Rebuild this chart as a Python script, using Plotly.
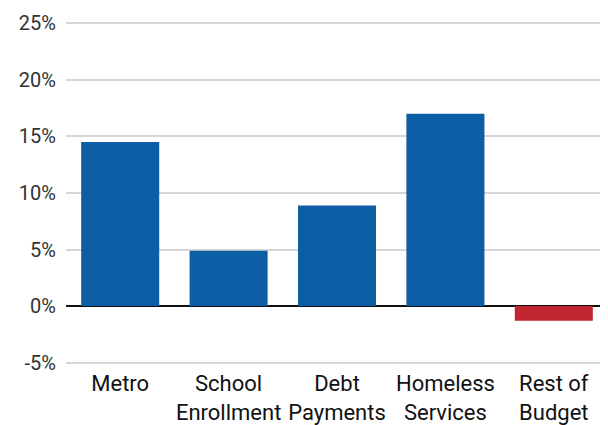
import plotly.graph_objects as go

categories = ["Metro", "School<br>Enrollment", "Debt<br>Payments", "Homeless<br>Services", "Rest of<br>Budget"]
values = [14.5, 4.9, 8.9, 17.0, -1.3]
bar_colors = ["#0e5ea6", "#0e5ea6", "#0e5ea6", "#0e5ea6", "#bf2630"]
tick_vals = [-5, 0, 5, 10, 15, 20, 25]
tick_text = ["-5%", "0%", "5%", "10%", "15%", "20%", "25%"]

fig = go.Figure(go.Bar(
    x=categories, y=values,
    marker=dict(color=bar_colors, line=dict(width=0)),
    hoverinfo="skip",
))

# the page body adds an 8px margin, so the figure is sized to fill the rest of the window
fig.update_layout(
    width=600, height=417,
    margin=dict(l=58, r=0, t=12, b=59),
    plot_bgcolor="white", paper_bgcolor="white",
    bargap=0.28,
    showlegend=False,
    font=dict(family="Roboto, sans-serif", color="#222222"),
)
fig.update_yaxes(
    range=[-5.3, 25.3],
    tickvals=tick_vals, ticktext=tick_text,
    showgrid=True, gridcolor="#d6d6d6", gridwidth=1.5,
    zeroline=True, zerolinecolor="#111111", zerolinewidth=2,
    tickfont=dict(family="Roboto", size=20, color="#333333"),
    ticklabelstandoff=9,
    showline=False, fixedrange=True, automargin=False,
)
fig.update_xaxes(
    tickfont=dict(family="Roboto", size=22, color="#111111"),
    showline=False, showgrid=False, ticks="",
    ticklabelstandoff=2,
    fixedrange=True, automargin=False,
)

fig.write_html("out.html", config={"displayModeBar": False})
